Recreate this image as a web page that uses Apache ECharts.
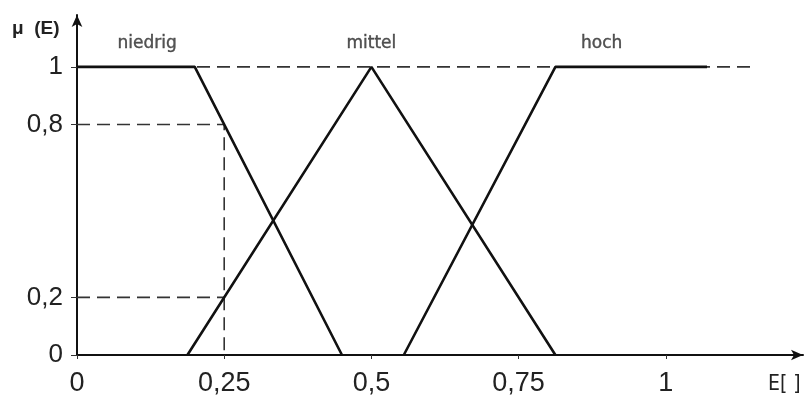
<!DOCTYPE html>
<html>
<head>
<meta charset="utf-8">
<script src="https://cdn.jsdelivr.net/npm/echarts@6/dist/echarts.min.js"></script>
<style>
  html, body { margin: 0; padding: 0; background: #fff; }
  #chart { width: 806px; height: 397px; }
</style>
</head>
<body>
<div id="chart"></div>
<script>
// Fuzzy membership functions μ(E) over the input E
const niedrig = [[0, 1], [0.2, 1], [0.45, 0]];
const mittel = [[0.1875, 0], [0.5, 1], [0.8125, 0]];
const hoch = [[0.555, 0], [0.8125, 1], [1.07, 1]];

// Term names and where they sit above the curves
const termNames = ['niedrig', 'mittel', 'hoch'];
const termPos = [[0.119, 1.08], [0.5, 1.08], [0.891, 1.08]];

// Evaluation at E = 0.25: memberships 0.8 (niedrig) and 0.2 (mittel)
const sampleE = 0.25;
const sampleHigh = 0.8;
const sampleLow = 0.2;
const fullLineEnd = 1.145;

const xTicks = [0, 0.25, 0.5, 0.75, 1];
const yTicks = [0, 0.2, 0.8, 1];

const fmt = v => String(+v.toFixed(2)).replace('.', ',');
const sans = "'Liberation Sans', Arial, sans-serif";

const solid = { color: '#111', width: 2.6 };
const dashed = { color: '#333', width: 1.6, type: [13, 7] };

const chart = echarts.init(document.getElementById('chart'));
chart.setOption({
  animation: false,
  backgroundColor: '#fff',
  grid: { left: 77, right: 3, top: 15, bottom: 40 },
  xAxis: {
    type: 'value', min: 0, max: 1.233,
    axisLine: { show: true, symbol: ['none', 'arrow'], symbolSize: [8, 12], lineStyle: { color: '#111', width: 2 } },
    axisTick: { show: true, customValues: xTicks, length: 4, lineStyle: { color: '#333', width: 1 } },
    axisLabel: { customValues: xTicks, formatter: fmt, margin: 15, fontFamily: sans, fontSize: 27, color: '#222' },
    splitLine: { show: false }
  },
  yAxis: {
    type: 'value', min: 0, max: 1.18,
    axisLine: { show: true, symbol: ['none', 'arrow'], symbolSize: [8, 12], lineStyle: { color: '#111', width: 2 } },
    axisTick: { show: true, customValues: yTicks, length: 6, lineStyle: { color: '#333', width: 1 } },
    axisLabel: { customValues: yTicks, formatter: fmt, margin: 14, fontFamily: sans, fontSize: 26, color: '#222' },
    splitLine: { show: false }
  },
  graphic: [
    { type: 'text', left: 12, top: 19, style: { text: 'μ  (E)', font: "bold 19px 'Liberation Sans', Arial, sans-serif", fill: '#222' } },
    { type: 'text', left: 768, top: 374, style: { text: 'E[ ]', font: "21px 'DejaVu Sans Condensed', 'DejaVu Sans', sans-serif", fill: '#222' } }
  ],
  series: [
    { type: 'line', data: [[0, 1], [fullLineEnd, 1]], symbol: 'none', lineStyle: dashed, z: 1 },
    { type: 'line', data: [[0, sampleHigh], [sampleE, sampleHigh], [sampleE, 0]], symbol: 'none', lineStyle: dashed, z: 1 },
    { type: 'line', data: [[0, sampleLow], [sampleE, sampleLow]], symbol: 'none', lineStyle: dashed, z: 1 },
    { type: 'line', name: 'niedrig', data: niedrig, symbol: 'none', lineStyle: solid, z: 3 },
    { type: 'line', name: 'mittel', data: mittel, symbol: 'none', lineStyle: solid, z: 3 },
    { type: 'line', name: 'hoch', data: hoch, symbol: 'none', lineStyle: solid, z: 3 },
    {
      type: 'scatter', symbolSize: 0, silent: true,
      data: termPos.map((p, i) => ({ value: p, name: termNames[i] })),
      label: {
        show: true, position: 'inside', formatter: p => p.name,
        fontFamily: "'DejaVu Sans', sans-serif", fontSize: 17, color: '#2a2a2a',
        textBorderColor: '#2a2a2a', textBorderWidth: 0.4
      }
    }
  ]
});
</script>
</body>
</html>
